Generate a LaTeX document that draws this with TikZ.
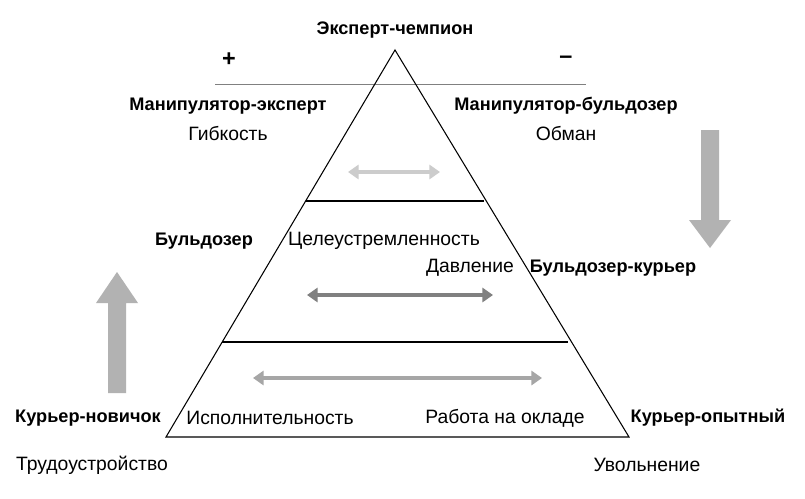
\documentclass[tikz,border=0pt]{standalone}
\usepackage{fontspec}
\setmainfont{Liberation Sans}
\usetikzlibrary{arrows.meta}
\begin{document}
\begin{tikzpicture}[x=0.03cm,y=-0.03cm,
  lbl/.style={font=\fontsize{16.5}{18}\selectfont},
  blbl/.style={font=\fontsize{15.5}{18}\selectfont\bfseries},
  dbl/.style={line width=3.2pt,{Triangle[length=9pt,width=12pt]}-{Triangle[length=9pt,width=12pt]}},
  edge/.style={line width=0.9pt}]
\useasboundingbox[fill=white] (0,0) rectangle (805,498);
\coordinate (A) at (395,50);
\coordinate (L) at (166,437);
\coordinate (R) at (629,437);
\coordinate (l1) at (305.7,201); \coordinate (r1) at (484.3,201);
\coordinate (l2) at (222.2,342); \coordinate (r2) at (567.8,342);
\coordinate (h1) at (215,84); \coordinate (h2) at (586,84);
\draw[gray,line width=0.8pt] (h1) -- (h2);
\draw[edge] (A) -- (L) -- (R) -- cycle;
\draw[edge] (l1) -- (r1);
\draw[edge] (l2) -- (r2);
\coordinate (a1) at (348,172); \coordinate (b1) at (440,172);
\coordinate (a2) at (307,295); \coordinate (b2) at (493,295);
\coordinate (a3) at (253,378); \coordinate (b3) at (542,378);
\draw[dbl,color=black!20] (a1) -- (b1);
\draw[dbl,color=black!50] (a2) -- (b2);
\draw[dbl,color=black!35] (a3) -- (b3);
\fill[black!30] (701,130) -- (719,130) -- (719,220) -- (731,220) -- (710,248) -- (689,220) -- (701,220) -- cycle;
\fill[black!30] (108,393) -- (126,393) -- (126,303) -- (138,303) -- (117,272) -- (96,303) -- (108,303) -- cycle;
\node[blbl] (top) at (395,30) {Эксперт-чемпион};
\node[font=\fontsize{20}{22}\selectfont\bfseries] (plus) at (229,60) {+};
\node[font=\fontsize{20}{22}\selectfont\bfseries] (minus) at (566,60) {–};
\node[blbl] (me) at (228,106) {Манипулятор-эксперт};
\node[lbl] (g) at (228,134) {Гибкость};
\node[blbl] (mb) at (566,106) {Манипулятор-бульдозер};
\node[lbl] (o) at (566,134) {Обман};
\node[blbl] (b) at (204,241) {Бульдозер};
\node[lbl] (c) at (384,241) {Целеустремленность};
\node[lbl] (d) at (470,268) {Давление};
\node[blbl] (bk) at (613,268) {Бульдозер-курьер};
\node[blbl] (kn) at (88,418) {Курьер-новичок};
\node[lbl] (i) at (270,418) {Исполнительность};
\node[lbl] (r) at (505,418) {Работа на окладе};
\node[blbl] (ko) at (708,418) {Курьер-опытный};
\node[lbl] (t) at (92,465) {Трудоустройство};
\node[lbl] (u) at (647,465) {Увольнение};
\end{tikzpicture}
\end{document}
